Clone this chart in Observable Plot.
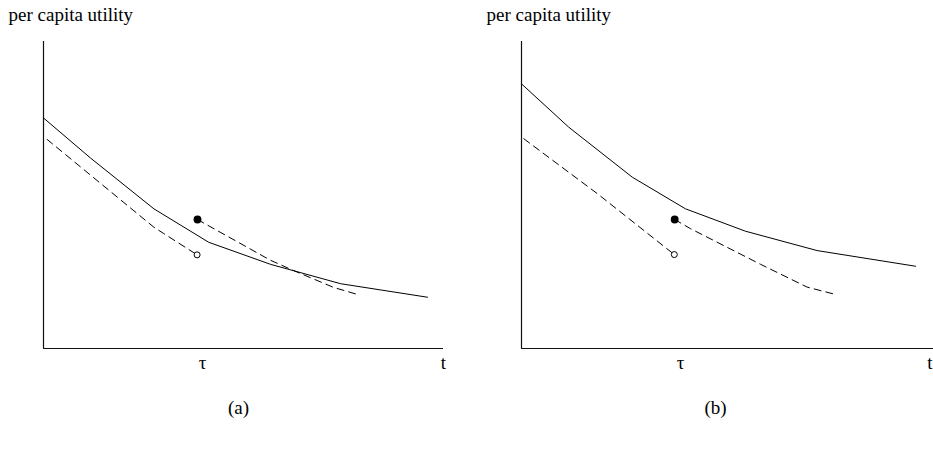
<!DOCTYPE html>
<html>
<head>
<meta charset="utf-8">
<script src="https://cdn.jsdelivr.net/npm/d3@7"></script>
<script src="https://cdn.jsdelivr.net/npm/@observablehq/plot@0.6"></script>
<style>
  html, body { margin: 0; padding: 0; background: #fff; }
  #wrap { display: flex; width: 933px; height: 455px; overflow: hidden; }
  #wrap svg { display: block; }
</style>
</head>
<body>
<div id="wrap"></div>
<script>
// ---- data (t, per capita utility) ----
const tau = 3.85;
const yLabel = "per capita utility";
const xLabel = "t";
const tauLabel = "τ";
const captions = ["(a)", "(b)"];

// panel (a)
const aSolidT = [0, 1.17, 2.76, 4.13, 5.68, 7.43, 9.6];
const aSolidU = [7.51, 6.21, 4.55, 3.46, 2.74, 2.11, 1.67];
const aLowT = [0.09, 2.76, 3.0, 3.84];
const aLowU = [6.81, 3.95, 3.75, 3.05];
const aHighT = [3.85, 5.68, 6.25, 7.25, 7.85];
const aHighU = [4.20, 2.87, 2.54, 1.99, 1.76];

// panel (b)
const bSolidT = [0, 1.18, 2.77, 4.1, 5.6, 7.39, 9.85];
const bSolidU = [8.62, 7.21, 5.58, 4.55, 3.82, 3.19, 2.68];
const bLowT = [0.06, 1.9, 3.82];
const bLowU = [6.83, 5.04, 3.06];
const bHighT = [3.83, 4.23, 5.98, 7.14, 7.85];
const bHighU = [4.20, 3.90, 2.74, 2.0, 1.76];

const zip = (ts, us) => ts.map((t, i) => ({t, u: us[i]}));

const font = "'Liberation Serif', 'DejaVu Serif', serif";

function panel({width, marginLeft, marginRight, xMax, solid, low, high, caption, captionDx, tAnchor, tDx}) {
  return Plot.plot({
    width,
    height: 455,
    marginLeft,
    marginRight,
    marginTop: 41,
    marginBottom: 107,
    x: {domain: [0, xMax], axis: null},
    y: {domain: [0, 10], axis: null},
    style: {fontFamily: font, fontSize: "19px", background: "white", overflow: "visible"},
    marks: [
      Plot.ruleX([0], {stroke: "#111", strokeWidth: 1.2}),
      Plot.ruleY([0], {stroke: "#111", strokeWidth: 1.2}),
      Plot.line(solid, {x: "t", y: "u", stroke: "black", strokeWidth: 1}),
      Plot.line(low, {x: "t", y: "u", stroke: "black", strokeWidth: 1, strokeDasharray: "7,5"}),
      Plot.line(high, {x: "t", y: "u", stroke: "black", strokeWidth: 1, strokeDasharray: "7,5"}),
      Plot.dot([high[0]], {x: "t", y: "u", r: 3.2, fill: "black", stroke: "black"}),
      Plot.dot([low[low.length - 1]], {x: "t", y: "u", r: 3, fill: "white", stroke: "black", strokeWidth: 1}),
      Plot.text([yLabel], {frameAnchor: "top-left", textAnchor: "start", lineAnchor: "bottom", dx: -35, dy: -21, fill: "black"}),
      Plot.text([tau], {x: d => d, text: () => tauLabel, frameAnchor: "bottom", lineAnchor: "bottom", dx: 5, dy: 20, fill: "black"}),
      Plot.text([xLabel], {frameAnchor: "bottom-right", textAnchor: tAnchor, lineAnchor: "bottom", dx: tDx, dy: 20, fill: "black"}),
      Plot.text([caption], {frameAnchor: "bottom", lineAnchor: "bottom", dx: captionDx, dy: 65, fill: "black"})
    ]
  });
}

const wrap = document.getElementById("wrap");
wrap.append(panel({
  width: 467, marginLeft: 43, marginRight: 24, xMax: 10,
  solid: zip(aSolidT, aSolidU), low: zip(aLowT, aLowU), high: zip(aHighT, aHighU),
  caption: captions[0], captionDx: -5, tAnchor: "middle", tDx: 0
}));
wrap.append(panel({
  width: 466, marginLeft: 54, marginRight: 0, xMax: 10.3,
  solid: zip(bSolidT, bSolidU), low: zip(bLowT, bLowU), high: zip(bHighT, bHighU),
  caption: captions[1], captionDx: -12, tAnchor: "end", tDx: -1
}));
</script>
</body>
</html>
